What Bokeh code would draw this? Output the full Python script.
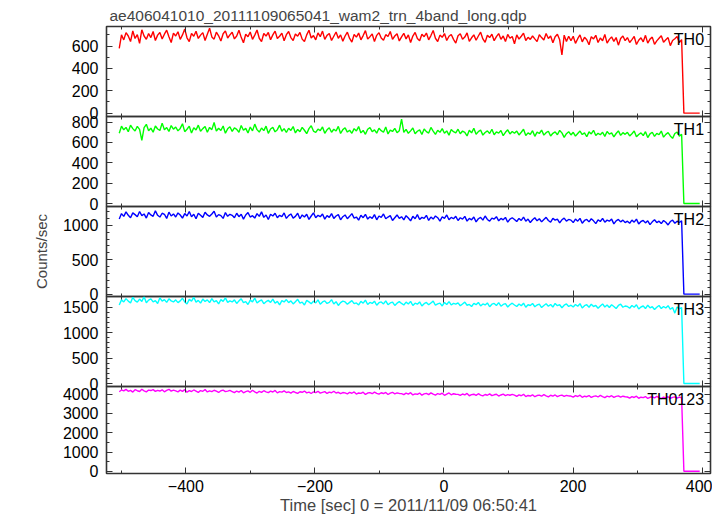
import numpy as np
from bokeh.plotting import figure
from bokeh.layouts import column
from bokeh.models import (Range1d, LinearAxis, SingleIntervalTicker, Label,
                          CustomJSTickFormatter, GlobalInlineStyleSheet)
from bokeh.embed import file_html
from bokeh.resources import INLINE

# ---------------- data ----------------
title_text = "ae406041010_20111109065041_wam2_trn_4band_long.qdp"
x_label = "Time [sec] 0 = 2011/11/09 06:50:41"
y_label = "Counts/sec"

bin_start = -505      # sec, first bin start
bin_width = 3.5       # sec
n_zero_bins = 8       # bins after the data stop (rate = 0)

names = ["TH0", "TH1", "TH2", "TH3", "TH0123"]
colors = ["#ff0000", "#00ff00", "#0000ff", "#00ffff", "#ff00ff"]
y_ranges = [(-30, 775), (-29, 855), (-34, 1273), (-58, 1706), (-116, 4400)]
y_major = [200, 200, 500, 500, 1000]
y_minor = [2, 2, 5, 5, 2]
x_range = (-523, 413)

th0 = [580, 700, 655, 720, 690, 640, 735, 668, 702, 625, 745, 690, 660, 712, 676, 730, 650, 698, 722, 664, 706, 742, 684, 632, 716,
       690, 728, 660, 700, 752, 674, 640, 714, 688, 732, 668, 698, 720, 650, 706, 760, 682, 662, 724, 692, 646, 710, 736, 672, 700,
       724, 664, 690, 742, 678, 630, 706, 684, 726, 660, 698, 744, 670, 640, 712, 690, 722, 656, 700, 734, 668, 688, 716, 648, 702,
       730, 676, 650, 708, 688, 722, 662, 640, 700, 742, 672, 694, 656, 718, 684, 734, 660, 696, 712, 650, 688, 726, 670, 700, 644,
       690, 724, 668, 636, 704, 680, 716, 656, 694, 738, 662, 684, 708, 640, 696, 720, 672, 652, 702, 686, 730, 660, 690, 710, 646,
       682, 714, 664, 700, 632, 690, 722, 668, 648, 706, 684, 716, 656, 694, 740, 670, 640, 698, 678, 712, 650, 688, 704, 660, 626,
       692, 710, 660, 680, 718, 642, 674, 700, 652, 690, 724, 664, 634, 696, 676, 706, 648, 684, 712, 660, 690, 640, 704, 670, 686,
       620, 700, 662, 688, 716, 650, 678, 660, 690, 664, 640, 702, 676, 654, 712, 668, 690, 630, 684, 706, 656, 520, 698, 640, 688,
       648, 688, 624, 666, 700, 638, 678, 656, 612, 684, 664, 696, 632, 672, 648, 704, 626, 660, 682, 642, 676, 608, 668, 690, 648,
       676, 632, 658, 686, 614, 652, 674, 638, 696, 626, 662, 680, 616, 646, 670, 692, 634, 656, 676, 604, 650, 666, 686, 632, 658]

th1 = [690, 760, 724, 748, 705, 770, 736, 712, 758, 728, 620, 745, 778, 716, 740, 700, 762, 732, 718, 790, 724, 746, 708, 766, 730,
       752, 714, 738, 784, 706, 730, 760, 692, 744, 722, 770, 710, 736, 756, 700, 748, 726, 796, 712, 740, 718, 762, 690, 734, 754,
       708, 744, 728, 700, 766, 720, 738, 694, 752, 714, 780, 726, 702, 742, 716, 760, 690, 732, 748, 704, 726, 770, 710, 736, 698,
       740, 718, 756, 694, 728, 706, 748, 720, 686, 736, 764, 712, 698, 732, 716, 752, 690, 724, 744, 700, 730, 712, 758, 688, 726,
       744, 702, 720, 690, 736, 712, 756, 694, 718, 680, 730, 746, 706, 724, 692, 740, 716, 700, 752, 684, 722, 708, 738, 696, 716,
       830, 700, 728, 690, 714, 742, 686, 710, 724, 678, 732, 706, 692, 748, 712, 680, 720, 700, 736, 690, 714, 672, 728, 706, 694,
       730, 686, 712, 700, 664, 720, 694, 740, 680, 706, 722, 672, 698, 714, 688, 730, 676, 704, 692, 718, 666, 700, 724, 684, 708,
       690, 712, 674, 700, 730, 668, 694, 680, 716, 660, 702, 688, 722, 672, 696, 710, 664, 690, 704, 676, 718, 694, 650, 686, 706,
       674, 700, 662, 688, 712, 678, 694, 656, 704, 684, 720, 668, 690, 676, 700, 660, 708, 682, 694, 654, 688, 714, 670, 696, 680,
       700, 664, 686, 712, 656, 678, 694, 668, 706, 648, 684, 700, 660, 690, 676, 712, 652, 680, 696, 664, 640, 688, 702, 662, 680]

th2 = [1090, 1170, 1130, 1195, 1145, 1110, 1180, 1155, 1125, 1200, 1140, 1165, 1105, 1185, 1150, 1130, 1210, 1145, 1120, 1175, 1160, 1100, 1190, 1135, 1165,
       1120, 1180, 1150, 1105, 1170, 1135, 1200, 1125, 1160, 1095, 1175, 1145, 1115, 1190, 1150, 1130, 1165, 1205, 1120, 1155, 1140, 1100, 1185, 1130, 1160,
       1145, 1110, 1175, 1125, 1160, 1090, 1150, 1185, 1120, 1140, 1105, 1170, 1130, 1195, 1115, 1150, 1085, 1160, 1135, 1175, 1110, 1145, 1125, 1180, 1100,
       1140, 1165, 1105, 1130, 1175, 1095, 1150, 1120, 1160, 1085, 1135, 1180, 1110, 1145, 1125, 1165, 1090, 1140, 1115, 1170, 1100, 1135, 1155, 1080, 1125,
       1150, 1095, 1130, 1170, 1105, 1120, 1075, 1145, 1110, 1160, 1090, 1125, 1100, 1155, 1080, 1135, 1115, 1165, 1095, 1120, 1140, 1070, 1110, 1150, 1100,
       1125, 1080, 1140, 1105, 1065, 1130, 1095, 1155, 1085, 1115, 1100, 1145, 1070, 1120, 1090, 1135, 1110, 1060, 1125, 1100, 1150, 1080, 1115, 1095, 1130,
       1070, 1110, 1090, 1130, 1060, 1100, 1080, 1120, 1050, 1095, 1115, 1075, 1135, 1085, 1060, 1105, 1090, 1125, 1065, 1100, 1080, 1115, 1045, 1090, 1110,
       1085, 1055, 1100, 1070, 1120, 1060, 1090, 1040, 1080, 1110, 1065, 1095, 1050, 1085, 1115, 1070, 1045, 1100, 1075, 1090, 1035, 1080, 1105, 1060, 1085,
       1075, 1040, 1090, 1060, 1100, 1030, 1070, 1085, 1050, 1095, 1065, 1025, 1080, 1055, 1100, 1045, 1075, 1060, 1090, 1020, 1065, 1085, 1050, 1075, 1040,
       1060, 1030, 1075, 1045, 1090, 1020, 1055, 1070, 1035, 1065, 1010, 1050, 1080, 1040, 1060, 1025, 1070, 1045, 1005, 1055, 1075, 1030, 1060, 1040, 1065]

th3 = [1540, 1640, 1600, 1665, 1615, 1580, 1690, 1625, 1595, 1655, 1610, 1700, 1585, 1635, 1660, 1600, 1625, 1570, 1680, 1615, 1645, 1590, 1660, 1620, 1600,
       1640, 1585, 1620, 1670, 1600, 1560, 1650, 1615, 1690, 1595, 1630, 1575, 1655, 1610, 1640, 1585, 1665, 1600, 1625, 1560, 1645, 1610, 1680, 1590, 1620,
       1600, 1640, 1570, 1620, 1660, 1585, 1605, 1550, 1635, 1600, 1675, 1580, 1615, 1640, 1565, 1605, 1630, 1590, 1655, 1575, 1610, 1540, 1625, 1600, 1645,
       1585, 1620, 1560, 1605, 1650, 1575, 1595, 1540, 1630, 1600, 1565, 1615, 1580, 1640, 1555, 1600, 1620, 1570, 1590, 1645, 1560, 1605, 1530, 1585, 1615,
       1600, 1555, 1590, 1625, 1565, 1580, 1540, 1610, 1575, 1635, 1550, 1590, 1570, 1615, 1535, 1585, 1600, 1560, 1620, 1545, 1580, 1595, 1530, 1575, 1605,
       1570, 1540, 1595, 1560, 1610, 1530, 1575, 1555, 1600, 1520, 1565, 1590, 1545, 1580, 1615, 1535, 1560, 1575, 1520, 1590, 1550, 1605, 1540, 1570, 1555,
       1580, 1525, 1560, 1595, 1535, 1550, 1510, 1570, 1545, 1590, 1520, 1560, 1540, 1580, 1505, 1555, 1570, 1530, 1585, 1515, 1550, 1565, 1500, 1545, 1575,
       1540, 1510, 1560, 1525, 1575, 1495, 1545, 1530, 1570, 1505, 1540, 1555, 1490, 1530, 1565, 1515, 1550, 1500, 1570, 1525, 1545, 1485, 1535, 1560, 1510,
       1535, 1500, 1550, 1515, 1565, 1480, 1525, 1545, 1495, 1555, 1510, 1530, 1475, 1520, 1560, 1500, 1540, 1490, 1545, 1510, 1470, 1530, 1555, 1495, 1520,
       1510, 1475, 1530, 1495, 1545, 1460, 1500, 1520, 1470, 1535, 1485, 1505, 1450, 1495, 1530, 1470, 1510, 1480, 1525, 1455, 1490, 1380, 1500, 1465, 1490]

th0123 = [4130, 4220, 4170, 4250, 4150, 4200, 4110, 4235, 4180, 4140, 4260, 4175, 4120, 4215, 4190, 4240, 4145, 4200, 4165, 4230, 4125, 4195, 4255, 4160, 4210,
          4170, 4120, 4210, 4150, 4235, 4100, 4185, 4140, 4220, 4165, 4095, 4190, 4150, 4240, 4115, 4175, 4130, 4205, 4155, 4090, 4180, 4215, 4135, 4160, 4195,
          4140, 4080, 4165, 4110, 4190, 4075, 4130, 4170, 4100, 4205, 4120, 4060, 4150, 4095, 4180, 4125, 4085, 4160, 4115, 4195, 4070, 4135, 4105, 4175, 4090,
          4120, 4060, 4140, 4090, 4045, 4130, 4100, 4165, 4070, 4110, 4035, 4125, 4085, 4150, 4055, 4095, 4135, 4040, 4110, 4075, 4155, 4060, 4100, 4030, 4085,
          4070, 4020, 4095, 4050, 4120, 4005, 4065, 4040, 4105, 3990, 4060, 4085, 4025, 4110, 4045, 4000, 4075, 4035, 4090, 3985, 4055, 4100, 4020, 4065, 4040,
          4030, 3975, 4055, 4005, 4080, 3960, 4020, 3995, 4060, 3950, 4015, 4045, 3980, 4070, 4000, 3955, 4035, 3990, 4050, 3945, 4010, 4065, 3970, 4025, 3995,
          3990, 3935, 4010, 3965, 4040, 3920, 3975, 4000, 3940, 4025, 3955, 3910, 3985, 3945, 4015, 3925, 3970, 3995, 3905, 3960, 4005, 3930, 3980, 3945, 3990,
          3950, 3890, 3965, 3920, 3995, 3880, 3935, 3905, 3970, 3870, 3930, 3955, 3895, 3980, 3915, 3865, 3945, 3900, 3960, 3875, 3925, 3950, 3885, 3935, 3910,
          3905, 3850, 3925, 3880, 3950, 3840, 3895, 3870, 3930, 3830, 3890, 3915, 3855, 3940, 3875, 3825, 3900, 3860, 3920, 3835, 3885, 3910, 3845, 3895, 3870,
          3855, 3800, 3875, 3830, 3895, 3790, 3845, 3820, 3880, 3780, 3840, 3865, 3805, 3885, 3825, 3775, 3850, 3810, 3870, 3785, 3835, 3860, 3795, 3845, 3820]

series = [th0, th1, th2, th3, th0123]

# ---------------- style ----------------
FONT = "Liberation Sans"
FRAME_H = 90
OVER = 10          # border that overlaps the neighbouring panel
TITLE_H = 26
BOTTOM_H = 40
W = 712
FRAME_COLOR = "#333333"

empty_fmt = CustomJSTickFormatter(code="return '';")


def style_axis(ax, labels):
    ax.axis_line_color = None
    ax.major_tick_in = 6
    ax.major_tick_out = 0
    ax.minor_tick_in = 3
    ax.minor_tick_out = 0
    ax.major_tick_line_color = FRAME_COLOR
    ax.minor_tick_line_color = FRAME_COLOR
    if labels:
        ax.major_label_text_font = FONT
        ax.major_label_text_font_size = "16px"
        ax.major_label_text_color = "black"
    else:
        ax.formatter = empty_fmt
        ax.major_label_text_font_size = "1px"
        ax.major_label_standoff = 0


x_rng = Range1d(*x_range)
figs = []
last = len(names) - 1
for i, (name, col, vals) in enumerate(zip(names, colors, series)):
    lo, hi = y_ranges[i]
    top = TITLE_H if i == 0 else OVER
    bottom = BOTTOM_H if i == last else OVER
    kw = {}
    if i > 0:
        kw["styles"] = {"margin-top": f"-{2 * OVER}px"}
    p = figure(width=W, height=top + FRAME_H + bottom, x_range=x_rng, y_range=Range1d(lo, hi),
               output_backend="svg", toolbar_location=None,
               x_axis_location=None, y_axis_location=None,
               min_border_left=106, min_border_right=2,
               min_border_top=top, min_border_bottom=bottom, **kw)
    p.xgrid.visible = False
    p.ygrid.visible = False
    p.outline_line_color = FRAME_COLOR
    p.outline_line_width = 1.6
    p.background_fill_color = None
    p.border_fill_color = None

    vals_full = list(vals) + [0] * n_zero_bins
    xs = bin_start + bin_width * (np.arange(len(vals_full)) + 0.5)
    p.line(xs, vals_full, line_color=col, line_width=1.4)

    # y axes
    yl = LinearAxis(ticker=SingleIntervalTicker(interval=y_major[i], num_minor_ticks=y_minor[i]))
    style_axis(yl, True)
    yl.major_label_standoff = 8
    if i == 2:
        yl.axis_label = y_label
        yl.axis_label_text_font = FONT
        yl.axis_label_text_font_size = "15px"
        yl.axis_label_text_font_style = "normal"
        yl.axis_label_standoff = 10
    p.add_layout(yl, "left")
    yr = LinearAxis(ticker=SingleIntervalTicker(interval=y_major[i], num_minor_ticks=y_minor[i]))
    style_axis(yr, False)
    p.add_layout(yr, "right")

    # x axes
    xt = LinearAxis(ticker=SingleIntervalTicker(interval=200, num_minor_ticks=2))
    style_axis(xt, False)
    p.add_layout(xt, "above")
    xb = LinearAxis(ticker=SingleIntervalTicker(interval=200, num_minor_ticks=2))
    if i == last:
        style_axis(xb, True)
        xb.major_label_standoff = 6
        xb.axis_label = x_label
        xb.axis_label_text_font = FONT
        xb.axis_label_text_font_size = "16.5px"
        xb.axis_label_text_font_style = "normal"
        xb.axis_label_standoff = 1
    else:
        style_axis(xb, False)
    p.add_layout(xb, "below")

    p.add_layout(Label(x=x_range[1] - 10, y=hi - 0.05 * (hi - lo), text=name,
                       text_align="right", text_baseline="top",
                       text_font=FONT, text_font_size="16px", text_color="black"))

    if i == 0:
        p.title.text = title_text
        p.title.text_font = FONT
        p.title.text_font_size = "15.5px"
        p.title.text_font_style = "normal"
        p.title.align = "left"
        p.title.offset = 3
        p.title.standoff = 6
    figs.append(p)

page_css = GlobalInlineStyleSheet(css="html, body { margin: 0; padding: 0; overflow: hidden; }")
layout = column(*figs, spacing=0, stylesheets=[page_css])
open("out.html", "w").write(file_html(layout, INLINE))
